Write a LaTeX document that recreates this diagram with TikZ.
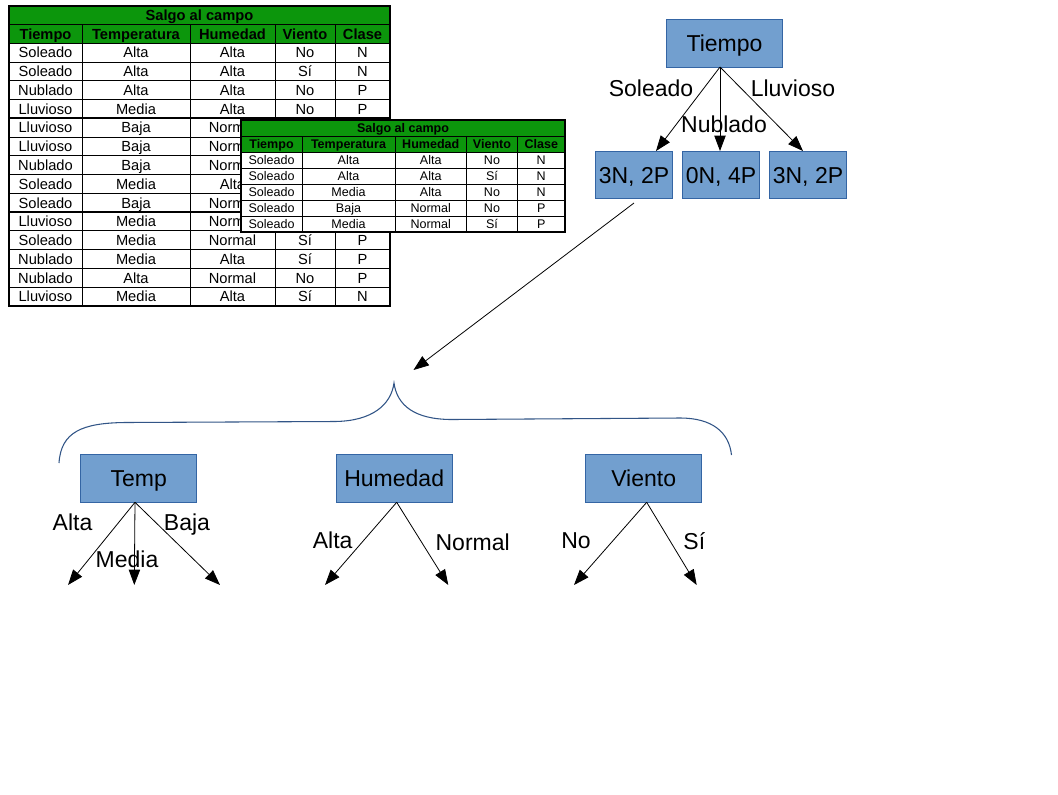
\documentclass[tikz,border=0pt]{standalone}
\usepackage{fontspec}
\setmainfont{Liberation Sans}
\usetikzlibrary{arrows.meta,calc}
\definecolor{tgreen}{RGB}{12,150,12}
\definecolor{boxfill}{RGB}{114,159,207}
\definecolor{boxline}{RGB}{52,101,164}
\definecolor{bracecol}{RGB}{50,85,135}
\begin{document}
\begin{tikzpicture}[x=0.75pt,y=-0.75pt,
  tbox/.style={draw=boxline, fill=boxfill, line width=0.75pt, inner sep=0pt,
     font=\fontsize{17.25}{20}\selectfont, text height=12.3pt, text depth=0pt},
  lbl/.style={font=\fontsize{17.25}{20}\selectfont, inner sep=0pt, text height=12.3pt, text depth=0pt},
  arr/.style={-{Triangle[length=11.5pt,width=8.5pt]}, line width=0.6pt},
  bcell/.style={font=\fontsize{11}{13}\selectfont, inner sep=0pt, text height=7.9pt, text depth=0pt},
  bhead/.style={font=\bfseries\fontsize{11}{13}\selectfont, inner sep=0pt, text height=7.9pt, text depth=0pt},
  scell/.style={font=\fontsize{9.4}{11}\selectfont, inner sep=0pt, text height=6.7pt, text depth=0pt},
  shead/.style={font=\bfseries\fontsize{9.4}{11}\selectfont, inner sep=0pt, text height=6.7pt, text depth=0pt},
  gridl/.style={line width=0.75pt},
  thickl/.style={line width=1.5pt}]
\useasboundingbox (0,0) rectangle (1058,794);
\fill[white] (0,0) rectangle (1058,794);

% ---------------- big table ----------------
\fill[tgreen] (9,6) rectangle (390,43.3);
\foreach \r in {0,...,14}{
  \pgfmathsetmacro\yy{43.3+\r*18.76}
  \draw[gridl] (9,\yy) -- (390,\yy);
}
\draw[gridl] (9,24.5) -- (390,24.5);
\foreach \xx in {82,190,275,335}{
  \draw[gridl] (\xx,24.5) -- (\xx,306);
}
\draw[thickl] (9,118.3) -- (390,118.3);
\draw[thickl] (9,212.1) -- (390,212.1);
\draw[thickl] (9,6) rectangle (390,306);
\node[bhead] (bt-title) at (199.5,15.6) {Salgo al campo};
\foreach \c/\xx/\t in {1/45.5/Tiempo,2/136/Temperatura,3/232.5/Humedad,4/305/Viento,5/362.5/Clase}{
  \node[bhead] (bt-h-\c) at (\xx,34) {\t};
}
% rows fully visible
\foreach \r/\a/\b/\c/\d/\e in {
  1/Soleado/Alta/Alta/No/N,
  2/Soleado/Alta/Alta/Sí/N,
  3/Nublado/Alta/Alta/No/P,
  4/Lluvioso/Media/Alta/No/P,
  11/Soleado/Media/Normal/Sí/P,
  12/Nublado/Media/Alta/Sí/P,
  13/Nublado/Alta/Normal/No/P,
  14/Lluvioso/Media/Alta/Sí/N}{
  \pgfmathsetmacro\yy{43.3+(\r-0.5)*18.76}
  \node[bcell] (bt-\r-1) at (45.5,\yy) {\a};
  \node[bcell] (bt-\r-2) at (136,\yy) {\b};
  \node[bcell] (bt-\r-3) at (232.5,\yy) {\c};
  \node[bcell] (bt-\r-4) at (305,\yy) {\d};
  \node[bcell] (bt-\r-5) at (362.5,\yy) {\e};
}
% rows partly covered by the second table
\foreach \r/\a/\b/\c in {
  5/Lluvioso/Baja/Normal,
  6/Lluvioso/Baja/Normal,
  7/Nublado/Baja/Normal,
  8/Soleado/Media/Alta,
  9/Soleado/Baja/Normal,
  10/Lluvioso/Media/Normal}{
  \pgfmathsetmacro\yy{43.3+(\r-0.5)*18.76}
  \node[bcell] (bt-\r-1) at (45.5,\yy) {\a};
  \node[bcell] (bt-\r-2) at (136,\yy) {\b};
  \node[bcell] (bt-\r-3) at (232.5,\yy) {\c};
}

% ---------------- small table ----------------
\fill[white] (241,120) rectangle (565,232);
\fill[tgreen] (241,120) rectangle (565,152.3);
\foreach \r in {0,...,5}{
  \pgfmathsetmacro\yy{152.3+\r*15.94}
  \draw[gridl] (241,\yy) -- (565,\yy);
}
\draw[gridl] (241,136.5) -- (565,136.5);
\foreach \xx in {302,395,466.5,517.5}{
  \draw[gridl] (\xx,136.5) -- (\xx,232);
}
\draw[line width=1pt] (241,120) rectangle (565,232);
\node[shead] (st-title) at (403,128.3) {Salgo al campo};
\foreach \c/\xx/\t in {1/271.5/Tiempo,2/348.5/Temperatura,3/430.75/Humedad,4/492/Viento,5/541.25/Clase}{
  \node[shead] (st-h-\c) at (\xx,144.4) {\t};
}
\foreach \r/\a/\b/\c/\d/\e in {
  1/Soleado/Alta/Alta/No/N,
  2/Soleado/Alta/Alta/Sí/N,
  3/Soleado/Media/Alta/No/N,
  4/Soleado/Baja/Normal/No/P,
  5/Soleado/Media/Normal/Sí/P}{
  \pgfmathsetmacro\yy{152.3+(\r-0.5)*15.94}
  \node[scell] (st-\r-1) at (271.5,\yy) {\a};
  \node[scell] (st-\r-2) at (348.5,\yy) {\b};
  \node[scell] (st-\r-3) at (430.75,\yy) {\c};
  \node[scell] (st-\r-4) at (492,\yy) {\d};
  \node[scell] (st-\r-5) at (541.25,\yy) {\e};
}

% ---------------- top tree ----------------
\node[tbox, minimum width=86.5pt, minimum height=36pt] (t) at (724.5,43) {Tiempo};
\node[tbox, minimum width=58pt, minimum height=35pt] (b1) at (634,175) {3N, 2P};
\node[tbox, minimum width=58pt, minimum height=35pt] (b2) at (721,175) {0N, 4P};
\node[tbox, minimum width=58pt, minimum height=35pt] (b3) at (808,175) {3N, 2P};
\coordinate (ts) at (720,67);
\coordinate (tip1) at (656,151);
\coordinate (tip2) at (720,151);
\coordinate (tip3) at (803,151);
\draw[arr] (ts) -- (tip1);
\draw[arr] (ts) -- (tip2);
\draw[arr] (ts) -- (tip3);
\node[lbl] (l-sol) at (651,88) {Soleado};
\node[lbl] (l-nub) at (724,124.5) {Nublado};
\node[lbl] (l-llu) at (793,88) {Lluvioso};

% long arrow
\coordinate (ls) at (634,203);
\coordinate (le) at (413.5,370);
\draw[arr] (ls) -- (le);

% brace
\draw[bracecol, line width=0.8pt]
  (59,463) .. controls (61,432) and (82,423) .. (125,422.5)
  -- (335,421.5) .. controls (372,421) and (391,405) .. (394,383)
  .. controls (397,405) and (414,419.5) .. (452,419.5)
  -- (680,418) .. controls (712,418) and (729,432) .. (731.5,455);

% ---------------- bottom trees ----------------
\node[tbox, minimum width=87pt, minimum height=36pt] (temp) at (138.7,478) {Temp};
\node[tbox, minimum width=87pt, minimum height=36pt] (hum) at (394.2,478) {Humedad};
\node[tbox, minimum width=87pt, minimum height=36pt] (vie) at (643.7,478) {Viento};

\coordinate (tps) at (135,502.3);
\coordinate (tp1) at (68,585);
\coordinate (tp2) at (134.3,585);
\coordinate (tp3) at (220,585);
\draw[arr] (tps) -- (tp1);
\draw[arr] (tps) -- (tp2);
\draw[arr] (tps) -- (tp3);
\node[lbl] (l-ta) at (72.5,522) {Alta};
\node[lbl] (l-tm) at (127,559.5) {Media};
\node[lbl] (l-tb) at (187,522) {Baja};

\coordinate (hs) at (396.7,502.3);
\coordinate (hp1) at (325,585);
\coordinate (hp2) at (448.3,585);
\draw[arr] (hs) -- (hp1);
\draw[arr] (hs) -- (hp2);
\node[lbl] (l-ha) at (332.7,540.5) {Alta};
\node[lbl] (l-hn) at (472.7,542) {Normal};

\coordinate (vs) at (646.7,502.3);
\coordinate (vp1) at (574,585);
\coordinate (vp2) at (696.7,585);
\draw[arr] (vs) -- (vp1);
\draw[arr] (vs) -- (vp2);
\node[lbl] (l-vn) at (576,540) {No};
\node[lbl] (l-vs) at (694.3,541.5) {Sí};
\end{tikzpicture}
\end{document}
